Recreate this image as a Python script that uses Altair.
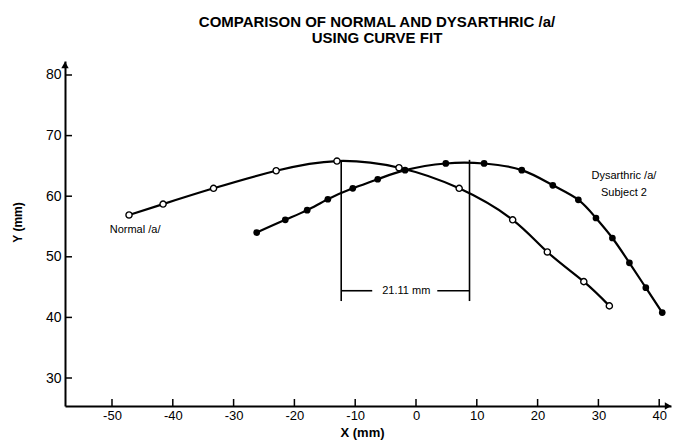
import altair as alt
import pandas as pd

# ---- data ----
normal_x = [-47.2, -41.6, -33.3, -23.0, -13.0, -2.8, 7.1, 15.9, 21.6, 27.6, 31.8]
normal_y = [56.9, 58.7, 61.3, 64.2, 65.8, 64.7, 61.3, 56.1, 50.8, 45.9, 41.9]

dys_x = [-26.2, -21.5, -17.9, -14.5, -10.4, -6.3, -1.8, 4.9, 11.2, 17.4, 22.5,
         26.7, 29.6, 32.3, 35.1, 37.8, 40.5]
dys_y = [54.0, 56.1, 57.7, 59.5, 61.3, 62.8, 64.3, 65.4, 65.4, 64.3, 61.8,
         59.4, 56.4, 53.1, 49.0, 44.9, 40.8]

x_ticks = [-50, -40, -30, -20, -10, 0, 10, 20, 30, 40]
y_ticks = [30, 40, 50, 60, 70, 80]

# bracket showing the distance between the two peaks
bracket_x = [-12.3, 8.8]
bracket_top = [65.8, 66.0]
bracket_bottom = 42.7
bracket_line_y = 44.4
bracket_gap = [-7.2, 3.5]

labels_text = ["Normal /a/", "Dysarthric /a/", "Subject 2", "21.11 mm"]
labels_x = [-46.2, 34.2, 34.2, -1.6]
labels_y = [54.4, 63.3, 60.5, 44.4]

W, H = 606, 345
FONT = "Liberation Sans"

normal = pd.DataFrame({"x": normal_x, "y": normal_y})
dys = pd.DataFrame({"x": dys_x, "y": dys_y})

xs = alt.Scale(domain=[-57.73, 41.94], nice=False, zero=False)
ys = alt.Scale(domain=[25.38, 82.31], nice=False, zero=False)

x_axis = alt.Axis(values=x_ticks, ticks=False, grid=False, domainColor="black",
                  domainWidth=2, labelFontSize=13, labelFont=FONT, labelColor="black",
                  labelPadding=3,
                  labelExpr="datum.value < 0 ? '-' + abs(datum.value) : '' + datum.value",
                  title="X (mm)", titleFont=FONT, titleFontSize=13,
                  titleFontWeight="bold", titleColor="black", titlePadding=4,
                  titleX=297, titleAnchor="start", titleAlign="center")
y_axis = alt.Axis(values=y_ticks, ticks=False, grid=False, domainColor="black",
                  domainWidth=2, labelFontSize=14, labelFont=FONT, labelColor="black",
                  labelPadding=4, title="Y (mm)", titleFont=FONT, titleFontSize=12,
                  titleFontWeight="bold", titleColor="black",
                  titleX=-41, titleY=161, titleAlign="center", titleAngle=-90)


def X(field):
    return alt.X(field, type="quantitative", scale=xs, axis=x_axis)


def Y(field):
    return alt.Y(field, type="quantitative", scale=ys, axis=y_axis)


normal_line = alt.Chart(normal).mark_line(
    color="black", strokeWidth=2.2, interpolate="natural").encode(x=X("x"), y=Y("y"))
normal_pts = alt.Chart(normal).mark_point(
    shape="circle", filled=True, fill="white", stroke="black", strokeWidth=1.4,
    size=38, opacity=1).encode(x=X("x"), y=Y("y"))

dys_line = alt.Chart(dys).mark_line(
    color="black", strokeWidth=2.2, interpolate="natural").encode(x=X("x"), y=Y("y"))
dys_pts = alt.Chart(dys).mark_point(
    shape="circle", filled=True, color="black", size=45, opacity=1).encode(x=X("x"), y=Y("y"))

vert = pd.DataFrame({"x": bracket_x, "y": bracket_top, "y2": [bracket_bottom] * 2})
vert_rules = alt.Chart(vert).mark_rule(color="black", strokeWidth=1.6).encode(
    x=X("x"), y=Y("y"), y2="y2")

horiz = pd.DataFrame({"x": [bracket_x[0], bracket_gap[1]],
                      "x2": [bracket_gap[0], bracket_x[1]],
                      "y": [bracket_line_y] * 2})
horiz_rules = alt.Chart(horiz).mark_rule(color="black", strokeWidth=1.6).encode(
    x=X("x"), x2="x2", y=Y("y"))

lab = pd.DataFrame({"x": labels_x, "y": labels_y, "t": labels_text})
labels = alt.Chart(lab).mark_text(
    font=FONT, fontSize=11, color="black", align="center", baseline="middle").encode(
    x=X("x"), y=Y("y"), text="t:N")

xt = pd.DataFrame({"t": x_ticks})
x_tick_marks = alt.Chart(xt).mark_rule(color="black", strokeWidth=1.5).encode(
    x=X("t"), y=alt.value(H), y2=alt.value(H - 7))
yt = pd.DataFrame({"t": y_ticks})
y_tick_marks = alt.Chart(yt).mark_rule(color="black", strokeWidth=1.5).encode(
    y=Y("t"), x=alt.value(0), x2=alt.value(7))

arrow_df = pd.DataFrame({"a": [0]})
up_arrow = alt.Chart(arrow_df).mark_point(
    shape="triangle-up", filled=True, color="black", size=55, opacity=1).encode(
    x=alt.value(0), y=alt.value(4))
right_arrow = alt.Chart(arrow_df).mark_point(
    shape="triangle-right", filled=True, color="black", size=55, opacity=1).encode(
    x=alt.value(W - 3), y=alt.value(H))

chart = alt.layer(
    normal_line, dys_line, vert_rules, horiz_rules, normal_pts, dys_pts, labels,
    x_tick_marks, y_tick_marks, up_arrow, right_arrow
).properties(
    width=W, height=H,
    title=alt.TitleParams(["COMPARISON OF NORMAL AND DYSARTHRIC /a/", "USING CURVE FIT"],
                          font=FONT, fontSize=15, fontWeight="bold", lineHeight=16,
                          color="black", anchor="middle", dx=9, offset=15),
    autosize=alt.AutoSizeParams(type="none"),
    padding={"left": 65, "top": 61, "right": 5, "bottom": 42},
    background="white",
).configure_view(stroke=None)

chart.save("out.html", embed_options={"renderer": "svg", "actions": False})
